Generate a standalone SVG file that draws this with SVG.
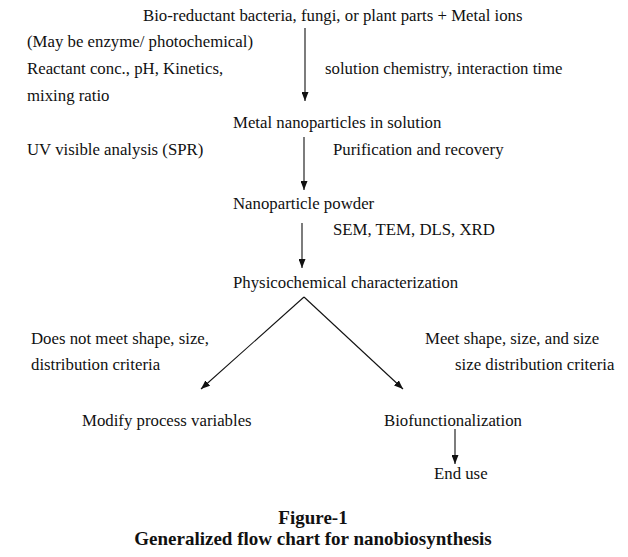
<svg xmlns="http://www.w3.org/2000/svg" width="628" height="557" viewBox="0 0 628 557">
<style>
text{font-family:"Liberation Serif","Times New Roman",serif;font-size:16.8px;fill:#111}
.cap{font-weight:bold;font-size:19px;text-anchor:middle}
.ln{stroke:#111;stroke-width:1.1;fill:none}
</style>
<defs>
<marker id="ah" viewBox="0 0 9 7" refX="9" refY="3.5" markerWidth="9" markerHeight="7" markerUnits="userSpaceOnUse" orient="auto">
<path d="M0,0 L9,3.5 L0,7 z" fill="#111"/>
</marker>
</defs>
<rect width="628" height="557" fill="#fff"/>
<g id="n-start"><text x="143" y="21">Bio-reductant bacteria, fungi, or plant parts + Metal ions</text></g>
<g id="l-left1">
<text x="27" y="47">(May be enzyme/ photochemical)</text>
<text x="27" y="74">Reactant conc., pH, Kinetics,</text>
<text x="27" y="101">mixing ratio</text>
</g>
<g id="l-right1"><text x="325" y="74">solution chemistry, interaction time</text></g>
<g id="n-solution"><text x="233" y="128">Metal nanoparticles in solution</text></g>
<g id="l-uv"><text x="27" y="155">UV visible analysis (SPR)</text></g>
<g id="l-purif"><text x="333" y="155">Purification and recovery</text></g>
<g id="n-powder"><text x="233" y="209">Nanoparticle powder</text></g>
<g id="l-sem"><text x="333" y="235">SEM, TEM, DLS, XRD</text></g>
<g id="n-physico"><text x="233" y="288">Physicochemical characterization</text></g>
<g id="l-notmeet">
<text x="31" y="344">Does not meet shape, size,</text>
<text x="31" y="370">distribution criteria</text>
</g>
<g id="l-meet">
<text x="425" y="344">Meet shape, size, and size</text>
<text x="455" y="370">size distribution criteria</text>
</g>
<g id="n-modify"><text x="82" y="426">Modify process variables</text></g>
<g id="n-biofunc"><text x="384" y="426">Biofunctionalization</text></g>
<g id="n-enduse"><text x="434" y="479">End use</text></g>
<g id="connectors">
<line class="ln" x1="305" y1="28" x2="305" y2="101" marker-end="url(#ah)"/>
<line class="ln" x1="304" y1="137" x2="304" y2="190" marker-end="url(#ah)"/>
<line class="ln" x1="302" y1="223" x2="302" y2="268" marker-end="url(#ah)"/>
<line class="ln" x1="304" y1="297" x2="201" y2="389" marker-end="url(#ah)"/>
<line class="ln" x1="304" y1="297" x2="403" y2="389" marker-end="url(#ah)"/>
<line class="ln" x1="455" y1="429" x2="455" y2="464" marker-end="url(#ah)"/>
</g>
<g id="caption">
<text class="cap" x="313" y="524">Figure-1</text>
<text class="cap" x="313" y="545">Generalized flow chart for nanobiosynthesis</text>
</g>
</svg>
